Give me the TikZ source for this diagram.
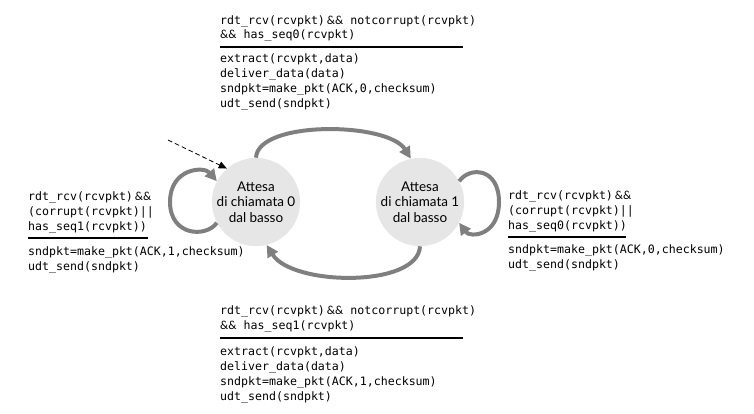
\documentclass[tikz,border=0pt]{standalone}
\usepackage{fontspec}
\setmainfont{Lato}
\newfontfamily\codefont{DejaVu Sans Mono}
\newfontfamily\labelfont{Lato}
\usetikzlibrary{arrows.meta}
\definecolor{stategray}{HTML}{E6E6E6}
\definecolor{flowgray}{HTML}{7F7F7F}
% the "&&" operator is set in the text face, not in the code face
\newcommand{\andand}{{\labelfont\&\&}}
\tikzset{
  state/.style={circle, fill=stategray, minimum size=2.64cm, inner sep=0pt,
    align=center, font=\labelfont\fontsize{11.5}{13.2}\selectfont},
  code/.style={anchor=north west, inner sep=0pt, align=left,
    font=\codefont\fontsize{9.9}{12.76}\selectfont},
  flow/.style={line width=3.4pt, draw=flowgray,
    -{Triangle[length=10pt,width=10pt]}},
  initarrow/.style={line width=0.7pt, dash pattern=on 4pt off 2.5pt,
    -{Triangle[length=7pt,width=6pt]}},
  rulebar/.style={line width=0.9pt}
}
\begin{document}
\begin{tikzpicture}[x=0.03cm,y=-0.03cm]
\useasboundingbox (0,0) rectangle (754,413);

% states
\node[state] (s0) at (256,202) {Attesa\\di chiamata 0\\dal basso};
\node[state] (s1) at (420,202) {Attesa\\di chiamata 1\\dal basso};

% initial transition
\coordinate (init) at (168,140);
\draw[initarrow] (init) -- (s0.131);

% transitions between the states
\draw[flow] (s0.90) .. controls (258,120) and (388,122) .. (s1.102);
\draw[flow] (s1.-90) .. controls (418,288) and (292,286) .. (s0.-76);

% self loops
\coordinate (loopL) at (170,202);
\draw[flow] (s0.208) .. controls (206,238) and (170,236) .. (loopL)
  .. controls (170,168) and (204,166) .. (s0.152);
\coordinate (loopR) at (499,202);
\draw[flow] (s1.28) .. controls (470,166) and (499,168) .. (loopR)
  .. controls (499,236) and (470,238) .. (s1.-28);

% top label: s0 -> s1
\node[code] (topcond) at (220,15)
  {rdt\_rcv(rcvpkt)\,\andand{} notcorrupt(rcvpkt)\\\andand{} has\_seq0(rcvpkt)};
\draw[rulebar] (220,47) -- (463,47);
\node[code] (topact) at (220,53.7)
  {extract(rcvpkt,data)\\deliver\_data(data)\\sndpkt=make\_pkt(ACK,0,checksum)\\udt\_send(sndpkt)};

% bottom label: s1 -> s0
\node[code] (botcond) at (220,305.7)
  {rdt\_rcv(rcvpkt)\,\andand{} notcorrupt(rcvpkt)\\\andand{} has\_seq1(rcvpkt)};
\draw[rulebar] (220,338) -- (463,338);
\node[code] (botact) at (220,346.7)
  {extract(rcvpkt,data)\\deliver\_data(data)\\sndpkt=make\_pkt(ACK,1,checksum)\\udt\_send(sndpkt)};

% left loop label
\node[code] (leftcond) at (28,191.7)
  {rdt\_rcv(rcvpkt)\,\andand\\(corrupt(rcvpkt)||\\has\_seq1(rcvpkt))};
\draw[rulebar] (28,238) -- (148,238);
\node[code] (leftact) at (28,246.7)
  {sndpkt=make\_pkt(ACK,1,checksum)\\udt\_send(sndpkt)};

% right loop label
\node[code] (rightcond) at (508,190.7)
  {rdt\_rcv(rcvpkt)\,\andand\\(corrupt(rcvpkt)||\\has\_seq0(rcvpkt))};
\draw[rulebar] (508,237) -- (626,237);
\node[code] (rightact) at (508,244.7)
  {sndpkt=make\_pkt(ACK,0,checksum)\\udt\_send(sndpkt)};
\end{tikzpicture}
\end{document}
